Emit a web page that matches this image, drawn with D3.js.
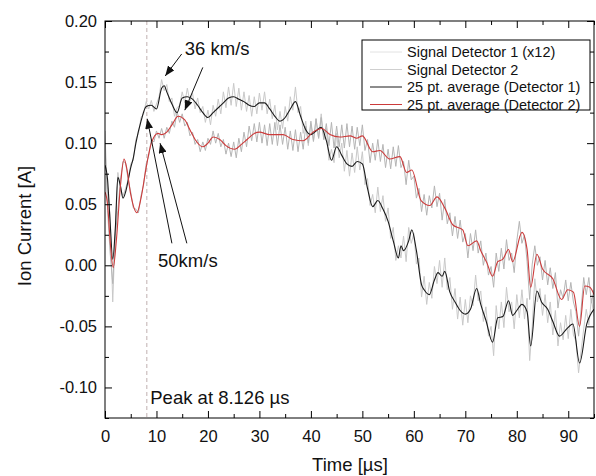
<!DOCTYPE html>
<html>
<head>
<meta charset="utf-8">
<script src="https://cdn.jsdelivr.net/npm/d3@7/dist/d3.min.js"></script>
<style>
  html, body { margin: 0; padding: 0; background: #fff; }
  svg { display: block; font-family: "Liberation Sans", Arial, sans-serif; }
</style>
</head>
<body>
<svg id="chart" width="596" height="476"></svg>
<script>
// ---------------- DATA ----------------
const xTicksMajor = [0, 10, 20, 30, 40, 50, 60, 70, 80, 90];
const xTicksMinor = [5, 15, 25, 35, 45, 55, 65, 75, 85, 95];
const yTicksMajor = [-0.10, -0.05, 0.00, 0.05, 0.10, 0.15, 0.20];
const yTicksMinor = [-0.125, -0.075, -0.025, 0.025, 0.075, 0.125, 0.175];

const seriesNames = ["Signal Detector 1 (x12)", "Signal Detector 2",
                     "25 pt. average (Detector 1)", "25 pt. average (Detector 2)"];

const rawStep = 0.5; // µs between raw samples, starting at 0
const rawDetector1 = [
  0.095, 0.062, 0.04, -0.03, 0.028, 0.076, 0.062, 0.057, 0.063, 0.07,
  0.083, 0.086, 0.103, 0.108, 0.121, 0.124, 0.134, 0.128, 0.135, 0.126,
  0.132, 0.138, 0.152, 0.143, 0.148, 0.134, 0.137, 0.122, 0.129, 0.131,
  0.142, 0.133, 0.145, 0.134, 0.141, 0.128, 0.137, 0.125, 0.13, 0.117,
  0.127, 0.115, 0.131, 0.122, 0.136, 0.124, 0.142, 0.129, 0.146, 0.131,
  0.149, 0.13, 0.145, 0.127, 0.142, 0.126, 0.139, 0.122, 0.138, 0.124,
  0.141, 0.127, 0.142, 0.124, 0.136, 0.12, 0.131, 0.111, 0.126, 0.112,
  0.13, 0.118, 0.138, 0.127, 0.146, 0.125, 0.13, 0.108, 0.118, 0.098,
  0.116, 0.101, 0.12, 0.104, 0.124, 0.103, 0.112, 0.086, 0.095, 0.084,
  0.108, 0.088, 0.1, 0.077, 0.094, 0.073, 0.092, 0.076, 0.097, 0.078,
  0.093, 0.066, 0.071, 0.049, 0.058, 0.043, 0.064, 0.044, 0.057, 0.036,
  0.047, 0.022, 0.031, 0.004, 0.016, 0.006, 0.024, 0.003, 0.031, 0.018,
  0.026, 0.001, 0.006, -0.026, -0.009, -0.032, -0.014, -0.027, -0.001, -0.015,
  0.004, -0.018, 0.006, -0.02, -0.01, -0.036, -0.019, -0.044, -0.026, -0.049,
  -0.028, -0.047, -0.025, -0.033, -0.008, -0.029, -0.021, -0.046, -0.034, -0.058,
  -0.05, -0.074, -0.033, -0.052, -0.03, -0.051, -0.018, -0.038, -0.03, -0.052,
  -0.024, -0.043, -0.02, -0.044, -0.027, -0.078, -0.05, -0.011, -0.03, -0.019,
  -0.041, -0.024, -0.047, -0.03, -0.057, -0.037, -0.066, -0.047, -0.061, -0.041,
  -0.06, -0.036, -0.057, -0.062, -0.088, -0.07, -0.052, -0.036, -0.049, -0.027,
  -0.042
];
const rawDetector2 = [
  0.11, 0.045, 0.01, -0.015, 0.024, 0.045, 0.07, 0.085, 0.084, 0.07,
  0.06, 0.047, 0.046, 0.043, 0.057, 0.066, 0.083, 0.09, 0.103, 0.101,
  0.11, 0.104, 0.112, 0.104, 0.113, 0.108, 0.118, 0.113, 0.126, 0.117,
  0.124, 0.114, 0.117, 0.106, 0.109, 0.099, 0.103, 0.093, 0.101, 0.094,
  0.104, 0.099, 0.11, 0.1, 0.108, 0.097, 0.103, 0.091, 0.1, 0.089,
  0.101, 0.088, 0.104, 0.093, 0.109, 0.097, 0.114, 0.102, 0.116, 0.101,
  0.117, 0.1, 0.115, 0.098, 0.116, 0.099, 0.117, 0.098, 0.115, 0.099,
  0.113, 0.095, 0.11, 0.094, 0.111, 0.093, 0.109, 0.095, 0.114, 0.1,
  0.118, 0.102, 0.12, 0.104, 0.121, 0.103, 0.116, 0.098, 0.117, 0.096,
  0.114, 0.097, 0.115, 0.096, 0.116, 0.097, 0.114, 0.095, 0.113, 0.098,
  0.115, 0.094, 0.103, 0.084, 0.1, 0.086, 0.103, 0.085, 0.099, 0.08,
  0.095, 0.079, 0.097, 0.081, 0.098, 0.08, 0.085, 0.066, 0.086, 0.07,
  0.073, 0.055, 0.063, 0.044, 0.058, 0.041, 0.057, 0.047, 0.065, 0.048,
  0.059, 0.037, 0.054, 0.034, 0.043, 0.024, 0.04, 0.022, 0.037, 0.019,
  0.026, 0.006, 0.026, 0.012, 0.029, 0.01, 0.02, 0.0, 0.01, -0.008,
  -0.001, -0.018, 0.01, -0.005, 0.014, -0.003, 0.021, 0.004, 0.01, -0.006,
  0.02, 0.036, 0.018, 0.025, 0.003, -0.028, 0.001, 0.016, 0.0, 0.007,
  -0.012, 0.004, -0.016, -0.002, -0.019, -0.006, -0.035, -0.02, -0.027, -0.012,
  -0.029, -0.014, -0.03, -0.038, -0.058, -0.036, -0.01, -0.024, -0.01, -0.031,
  -0.02
];

// [time µs, current A]
const avgDetector1 = [
  [0,0.082],[0.5,0.07],[1,0.035],[1.5,0.005],[2,0.03],[2.5,0.072],[3,0.065],[3.5,0.055],[4,0.06],
  [5,0.08],[5.5,0.088],[6,0.1],[7,0.118],[8,0.13],[9,0.131],[10,0.128],[11,0.145],[11.5,0.147],[12,0.142],
  [13,0.132],[14,0.125],[15,0.137],[16,0.138],[17,0.136],[18,0.131],[19,0.125],[20,0.121],[21,0.125],
  [22,0.129],[23,0.133],[24,0.137],[25,0.138],[26,0.136],[27,0.134],[28,0.131],[29,0.130],[30,0.133],
  [31,0.133],[32,0.128],[33,0.122],[34,0.118],[35,0.121],[36,0.128],[37,0.134],[38,0.122],[39,0.111],
  [40,0.107],[41,0.110],[42,0.113],[43,0.102],[44,0.086],[45,0.097],[46,0.090],[47,0.083],[48,0.081],
  [49,0.085],[50,0.083],[51,0.063],[52,0.048],[53,0.053],[54,0.046],[55,0.036],[56,0.02],[57,0.006],
  [57.5,0.016],[58,0.012],[59,0.02],[59.6,0.029],[60.5,0.012],[61.5,-0.016],[62,-0.02],[63,-0.024],
  [64,-0.012],[64.7,-0.006],[65.5,-0.009],[66,-0.005],[67,-0.022],[68,-0.03],[69,-0.037],[70,-0.04],
  [71,-0.036],[72.2,-0.019],[73,-0.032],[74,-0.045],[75.3,-0.063],[76.3,-0.043],[77.3,-0.042],
  [78.4,-0.029],[79.2,-0.041],[80,-0.037],[81,-0.032],[82,-0.038],[82.7,-0.066],[83.9,-0.021],
  [84.8,-0.03],[86,-0.036],[87,-0.046],[88.3,-0.058],[89.7,-0.052],[90.9,-0.048],[92.2,-0.08],
  [93.6,-0.048],[95,-0.036]
];
const avgDetector2 = [
  [0,0.06],[0.5,0.05],[1,0.02],[1.6,-0.002],[2.2,0.02],[3,0.065],[3.7,0.087],[4.2,0.08],[5,0.058],
  [6.2,0.043],[7,0.055],[8,0.08],[9,0.1],[10.3,0.108],[11,0.107],[12,0.109],[13,0.115],[14.2,0.122],
  [15.5,0.119],[16.5,0.111],[17.5,0.103],[19,0.097],[20,0.1],[21,0.105],[22.3,0.103],[23.5,0.098],
  [25.2,0.095],[26.5,0.099],[27.6,0.103],[29,0.108],[30,0.109],[32,0.107],[34.6,0.107],[36.5,0.103],
  [38.5,0.102],[40.4,0.109],[42.1,0.112],[43.7,0.107],[45.6,0.105],[47.6,0.106],[48.9,0.104],[50,0.106],
  [52,0.093],[53.4,0.094],[55.3,0.087],[57.3,0.089],[58.6,0.076],[59.6,0.078],[61.4,0.053],[63.1,0.049],
  [64.5,0.056],[66,0.047],[67.6,0.033],[69.5,0.029],[70.5,0.016],[72.2,0.02],[73,0.012],[74.2,0.002],
  [75.3,-0.009],[76.3,0.003],[77.3,0.005],[78.4,0.013],[79.2,0.003],[81,0.027],[82,0.013],[82.7,-0.018],
  [83.9,0.009],[85,-0.003],[87,-0.011],[88.7,-0.028],[89.9,-0.02],[91,-0.022],[92.2,-0.05],[93.2,-0.017],
  [94.2,-0.018],[95,-0.024]
];

const peakTime = 8.126;
// annotations in data units: text [t, v] and arrows [[t0,v0],[t1,v1]]
const annoTexts = [
  { label: "36 km/s", at: [15.5, 0.172] },
  { label: "50km/s", at: [10.3, -0.0015] },
  { label: "Peak at 8.126 \u00b5s", at: [8.8, -0.1135] }
];
const annoArrows = [
  [[14.9, 0.173], [11.7, 0.155]],
  [[19.0, 0.162], [15.5, 0.127]],
  [[13.0, 0.018], [8.2, 0.120]],
  [[15.9, 0.018], [10.7, 0.100]]
];

// ---------------- CHART ----------------
const svg = d3.select("#chart");
const W = 596, H = 476;
const L = 105, R = 594, T = 21, B = 418;

const x = d3.scaleLinear().domain([0, 95]).range([L, R]);
const y = d3.scaleLinear().domain([-0.125, 0.20]).range([B, T]);

svg.append("rect").attr("width", W).attr("height", H).attr("fill", "#fff");

const defs = svg.append("defs");
defs.append("clipPath").attr("id", "plotclip")
  .append("rect").attr("x", L).attr("y", T).attr("width", R - L).attr("height", B - T);
defs.append("marker").attr("id", "arrow")
  .attr("viewBox", "0 0 10 8").attr("refX", 10).attr("refY", 4)
  .attr("markerWidth", 10).attr("markerHeight", 8).attr("markerUnits", "userSpaceOnUse")
  .attr("orient", "auto")
  .append("path").attr("d", "M0,0 L10,4 L0,8 Z").attr("fill", "#111");

const plot = svg.append("g").attr("clip-path", "url(#plotclip)");

// peak marker line
plot.append("line")
  .attr("x1", x(peakTime)).attr("x2", x(peakTime))
  .attr("y1", y(0.20)).attr("y2", y(-0.125))
  .attr("stroke", "#b9a8a8").attr("stroke-width", 0.9).attr("stroke-dasharray", "4,3");

const rawLine = d3.line().x((d, i) => x(i * rawStep)).y(d => y(d));
const avgLine = d3.line().x(d => x(d[0])).y(d => y(d[1])).curve(d3.curveMonotoneX);

const colors = ["#c9c9c9", "#b5b5b5", "#1a1a1a", "#cc3a3a"];

plot.append("path").datum(rawDetector1).attr("d", rawLine)
  .attr("fill", "none").attr("stroke", colors[0]).attr("stroke-width", 1);
plot.append("path").datum(rawDetector2).attr("d", rawLine)
  .attr("fill", "none").attr("stroke", colors[1]).attr("stroke-width", 1);
plot.append("path").datum(avgDetector1).attr("d", avgLine)
  .attr("fill", "none").attr("stroke", colors[2]).attr("stroke-width", 1.1);
plot.append("path").datum(avgDetector2).attr("d", avgLine)
  .attr("fill", "none").attr("stroke", colors[3]).attr("stroke-width", 1.1);

// axes
function styleAxis(g) {
  g.select(".domain").remove();
  g.selectAll(".tick line").attr("stroke", "#000").attr("stroke-width", 1);
  g.selectAll(".tick text").attr("fill", "#111").attr("font-size", 16.5)
    .attr("font-family", "Liberation Sans, Arial, sans-serif");
}
svg.append("g").attr("transform", `translate(0,${B})`)
  .call(d3.axisBottom(x).tickValues(xTicksMajor).tickSizeInner(-7).tickSizeOuter(0)
    .tickPadding(12).tickFormat(d => String(d)))
  .call(styleAxis);
svg.append("g").attr("transform", `translate(0,${B})`)
  .call(d3.axisBottom(x).tickValues(xTicksMinor).tickSizeInner(-4).tickSizeOuter(0).tickFormat(""))
  .call(styleAxis);
svg.append("g").attr("transform", `translate(0,${T})`)
  .call(d3.axisTop(x).tickValues(xTicksMajor).tickSizeInner(-7).tickSizeOuter(0).tickFormat(""))
  .call(styleAxis);
svg.append("g").attr("transform", `translate(0,${T})`)
  .call(d3.axisTop(x).tickValues(xTicksMinor).tickSizeInner(-4).tickSizeOuter(0).tickFormat(""))
  .call(styleAxis);
svg.append("g").attr("transform", `translate(${L},0)`)
  .call(d3.axisLeft(y).tickValues(yTicksMajor).tickSizeInner(-7).tickSizeOuter(0)
    .tickPadding(8).tickFormat(d => d.toFixed(2)))
  .call(styleAxis);
svg.append("g").attr("transform", `translate(${L},0)`)
  .call(d3.axisLeft(y).tickValues(yTicksMinor).tickSizeInner(-4).tickSizeOuter(0).tickFormat(""))
  .call(styleAxis);
svg.append("g").attr("transform", `translate(${R},0)`)
  .call(d3.axisRight(y).tickValues(yTicksMajor).tickSizeInner(-7).tickSizeOuter(0).tickFormat(""))
  .call(styleAxis);
svg.append("g").attr("transform", `translate(${R},0)`)
  .call(d3.axisRight(y).tickValues(yTicksMinor).tickSizeInner(-4).tickSizeOuter(0).tickFormat(""))
  .call(styleAxis);

// frame
svg.append("rect").attr("x", L).attr("y", T).attr("width", R - L).attr("height", B - T)
  .attr("fill", "none").attr("stroke", "#000").attr("stroke-width", 1);

// axis titles
svg.append("text").attr("x", 350).attr("y", 471).attr("text-anchor", "middle")
  .attr("font-size", 18.5).attr("fill", "#111").text("Time [\u00b5s]");
svg.append("text").attr("transform", "translate(31,226) rotate(-90)").attr("text-anchor", "middle")
  .attr("font-size", 18.5).attr("fill", "#111").text("Ion Current [A]");

// annotations
annoArrows.forEach(a => {
  svg.append("line")
    .attr("x1", x(a[0][0])).attr("y1", y(a[0][1]))
    .attr("x2", x(a[1][0])).attr("y2", y(a[1][1]))
    .attr("stroke", "#111").attr("stroke-width", 1).attr("marker-end", "url(#arrow)");
});
annoTexts.forEach(a => {
  svg.append("text").attr("x", x(a.at[0])).attr("y", y(a.at[1]))
    .attr("font-size", 18.5).attr("fill", "#111").text(a.label);
});

// legend
const lg = svg.append("g").attr("transform", "translate(362,40)");
lg.append("rect").attr("width", 228).attr("height", 70)
  .attr("fill", "#fff").attr("stroke", "#000").attr("stroke-width", 1);
seriesNames.forEach((name, i) => {
  const yy = 12 + i * 17.5;
  lg.append("line").attr("x1", 8).attr("x2", 40).attr("y1", yy).attr("y2", yy)
    .attr("stroke", i < 2 ? (i === 0 ? "#e2e2e2" : "#cfcfcf") : colors[i]).attr("stroke-width", 1);
  lg.append("text").attr("x", 45).attr("y", yy).attr("dy", "0.36em")
    .attr("font-size", 14.5).attr("fill", "#111").text(name);
});
</script>
</body>
</html>
